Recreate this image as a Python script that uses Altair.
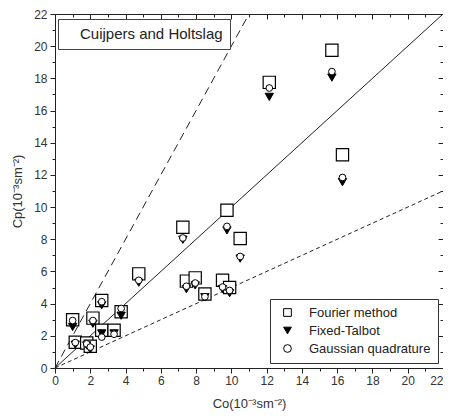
import altair as alt
import pandas as pd

methods = ["Fourier method", "Fixed-Talbot", "Gaussian quadrature"]

co = [1.0, 1.15, 1.8, 2.0, 2.15, 2.65, 2.65, 3.35, 3.75, 4.75, 7.25,
      7.45, 7.95, 8.5, 9.5, 9.9, 9.75, 10.5, 12.15, 15.7, 16.3]
cp_fourier = [3.0, 1.6, 1.55, 1.35, 3.1, 4.2, 2.35, 2.35, 3.5, 5.85, 8.75,
              5.4, 5.6, 4.6, 5.45, 5.0, 9.8, 8.05, 17.75, 19.75, 13.25]
cp_talbot = [2.55, 1.45, 1.4, 1.15, 2.75, 3.9, 2.15, 2.15, 3.25, 5.3, 7.97,
             4.9, 5.13, 4.4, 4.9, 4.65, 8.55, 6.8, 16.85, 18.05, 11.55]
cp_gauss = [2.95, 1.58, 1.5, 1.3, 2.95, 4.12, 1.92, 2.1, 3.7, 5.45, 8.08,
            5.08, 5.28, 4.43, 5.03, 4.82, 8.8, 6.93, 17.4, 18.42, 11.84]

line_x = [0, 22]
line_one = [0, 22]
line_two_x = [0, 11]
line_two = [0, 22]
line_half = [0, 11]

panel_label = ["Cuijpers and Holtslag"]

rows = []
for m, vals in zip(methods, [cp_fourier, cp_talbot, cp_gauss]):
    for xv, yv in zip(co, vals):
        rows.append({"method": m, "co": xv, "cp": yv})
pts = pd.DataFrame(rows)

FONT = "Liberation Sans"
xscale = alt.Scale(domain=[0, 22], nice=False, zero=False)
yscale = alt.Scale(domain=[0, 22], nice=False, zero=False)
tick_vals = list(range(0, 23))
minor_test = "datum.value % 2 != 0"

x_bottom = alt.Axis(values=tick_vals, labelExpr="datum.value % 2 == 0 ? datum.label : ''",
                    title="Co(10\u207b\u00b3sm\u207b\u00b2)", grid=False,
                    tickSize={"condition": {"test": minor_test, "value": 3}, "value": 5},
                    labelAlign={"condition": {"test": "datum.value == 22", "value": "right"},
                                "value": "center"},
                    domain=False, labelFont=FONT, titleFont=FONT, labelFontSize=12,
                    titleFontSize=13, titleFontWeight="normal", labelColor="#333",
                    titleColor="#333", tickColor="#222", labelPadding=2, titlePadding=11,
                    labelFlush=False)
y_left = alt.Axis(values=tick_vals, labelExpr="datum.value % 2 == 0 ? datum.label : ''",
                  title="Cp(10\u207b\u00b3sm\u207b\u00b2)", grid=False,
                  tickSize={"condition": {"test": minor_test, "value": 3}, "value": 5},
                  domain=False, labelFont=FONT, titleFont=FONT, labelFontSize=12,
                  titleFontSize=13, titleFontWeight="normal", labelColor="#333",
                  titleColor="#333", tickColor="#222", labelPadding=3, titlePadding=9,
                  labelFlush=False)

def base_axes_layer(xax, yax):
    return alt.Chart(pd.DataFrame({"co": line_x, "cp": line_one})).mark_point(opacity=0).encode(
        x=alt.X("co:Q", scale=xscale, axis=xax),
        y=alt.Y("cp:Q", scale=yscale, axis=yax),
    )

major_vals = list(range(0, 23, 2))
minor_vals = list(range(1, 22, 2))
top_major = alt.Axis(orient="top", values=major_vals, labels=False, title=None, grid=False,
                     domain=False, tickSize=5, offset=-5, tickColor="#222")
top_minor = alt.Axis(orient="top", values=minor_vals, labels=False, title=None, grid=False,
                     domain=False, tickSize=3, offset=-3, tickColor="#222")
right_major = alt.Axis(orient="right", values=major_vals, labels=False, title=None, grid=False,
                       domain=False, tickSize=5, offset=-5, tickColor="#222")
right_minor = alt.Axis(orient="right", values=minor_vals, labels=False, title=None, grid=False,
                       domain=False, tickSize=3, offset=-3, tickColor="#222")

ax0 = base_axes_layer(x_bottom, y_left)
ax1 = base_axes_layer(top_major, right_major)
ax2 = base_axes_layer(top_minor, right_minor)

ldf1 = pd.DataFrame({"co": line_x, "cp": line_one, "panel": panel_label * 2})
ldf2 = pd.DataFrame({"co": line_two_x, "cp": line_two})
ldf3 = pd.DataFrame({"co": line_x, "cp": line_half})

solid = alt.Chart(ldf1).mark_line(strokeWidth=1).encode(
    x=alt.X("co:Q", scale=xscale, axis=None),
    y=alt.Y("cp:Q", scale=yscale, axis=None),
    color=alt.Color("panel:N", scale=alt.Scale(range=["#222"]),
                    legend=alt.Legend(title=None, orient="none", legendX=3, legendY=5,
                                      strokeColor="#444", fillColor="white", padding=7,
                                      symbolOpacity=0, symbolSize=0, symbolStrokeWidth=0,
                                      labelOffset=0, labelFont=FONT, labelFontSize=15,
                                      labelColor="#222", labelLimit=400)),
)
dash2 = alt.Chart(ldf2).mark_line(strokeWidth=1, strokeDash=[8, 5], color="#222").encode(
    x=alt.X("co:Q", scale=xscale, axis=None),
    y=alt.Y("cp:Q", scale=yscale, axis=None),
)
dash_half = alt.Chart(ldf3).mark_line(strokeWidth=1, strokeDash=[4, 3], color="#222").encode(
    x=alt.X("co:Q", scale=xscale, axis=None),
    y=alt.Y("cp:Q", scale=yscale, axis=None),
)

shape_scale = alt.Scale(domain=methods, range=["square", "triangle-down", "circle"])
fill_scale = alt.Scale(domain=methods, range=["white", "black", "white"])
stroke_scale = alt.Scale(domain=methods, range=["black", "black", "black"])
legend = alt.Legend(title=None, orient="bottom-right", offset=5, strokeColor="#333",
                    fillColor="white", padding=7, symbolSize=60, symbolStrokeColor="black",
                    symbolStrokeWidth=1, labelFont=FONT, labelFontSize=13, labelColor="#222",
                    labelOffset=15, symbolOffset=4, rowPadding=4, labelLimit=300)

def scatter(method, size, sw):
    return alt.Chart(pts[pts.method == method]).mark_point(
        filled=True, strokeWidth=sw, opacity=1
    ).encode(
        x=alt.X("co:Q", scale=xscale, axis=None),
        y=alt.Y("cp:Q", scale=yscale, axis=None),
        shape=alt.Shape("method:N", scale=shape_scale, legend=legend),
        fill=alt.Fill("method:N", scale=fill_scale, legend=legend),
        stroke=alt.Stroke("method:N", scale=stroke_scale, legend=legend),
        size=alt.value(size),
    )

sq = scatter("Fourier method", 150, 1.2)
tri = scatter("Fixed-Talbot", 70, 1)
cir = scatter("Gaussian quadrature", 45, 1)

chart = alt.layer(ax0, ax1, ax2, dash2, dash_half, solid, sq, tri, cir).resolve_axis(
    x="independent", y="independent"
).properties(
    width=388, height=354,
    autosize=alt.AutoSizeParams(type="none"),
    padding={"left": 47, "top": 6, "right": 0, "bottom": 43},
).configure_view(stroke="#222", strokeWidth=1)

chart.save("out.html", embed_options={"renderer": "svg", "actions": False})
